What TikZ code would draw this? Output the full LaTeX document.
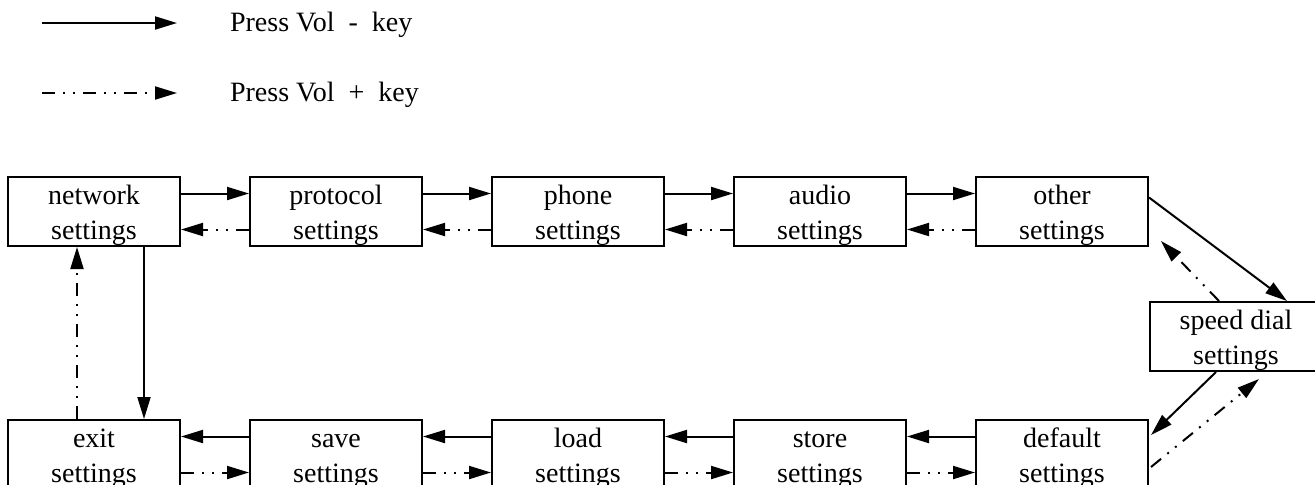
\documentclass[tikz,border=0pt]{standalone}
\usepackage{fontspec}
\setmainfont{Liberation Serif}
\usetikzlibrary{arrows.meta,positioning,calc}
\newcommand{\topline}{\rule{0pt}{13.5pt}}
\tikzset{
    setting/.style={
        rectangle,
        draw=black,
        line width=1pt,
        minimum width=86pt,
        minimum height=34.5pt,
        inner sep=0pt,
        align=center,
    },
    volminus/.style={
        ->,
        line width=1pt,
    },
    volplus/.style={
        ->,
        line width=1pt,
        dash pattern=on 6.5pt off 4pt on 1pt off 4pt on 1pt off 4pt,
    },
}

\begin{document}
\begin{tikzpicture}[node distance=86pt and 34pt,>={Triangle[length=11pt,width=6.5pt]},font=\fontsize{14}{17.5}\selectfont]
    \useasboundingbox (0,0) rectangle (657.5pt,-242pt);
    % legend
    \coordinate (minus-from) at (21pt,-11.5pt);
    \coordinate (minus-to) at (88.5pt,-11.5pt);
    \coordinate (plus-from) at (21pt,-46.5pt);
    \coordinate (plus-to) at (88.5pt,-46.5pt);
    \node [anchor=west] (minus-text) at (111.5pt,-12.5pt) {Press Vol~~-~~key};
    \node [anchor=west] (plus-text) at (111.5pt,-47.5pt) {Press Vol~~+~~key};
    \draw [volminus] (minus-from) -- (minus-to);
    \draw [volplus] (plus-from) -- (plus-to);
    % top row
    \node [setting] (network) at (47pt,-105.75pt) {\topline network\\settings};
    \node [setting] (protocol) [right=of network] {\topline protocol\\settings};
    \node [setting] (phone) [right=of protocol] {\topline phone\\settings};
    \node [setting] (audio) [right=of phone] {\topline audio\\settings};
    \node [setting] (other) [right=of audio] {\topline other\\settings};
    % bottom row
    \node [setting] (exit) [below=of network] {\topline exit\\settings};
    \node [setting] (save) [right=of exit] {\topline save\\settings};
    \node [setting] (load) [right=of save] {\topline load\\settings};
    \node [setting] (store) [right=of load] {\topline store\\settings};
    \node [setting] (default) [right=of store] {\topline default\\settings};
    \node [setting,anchor=west] (speeddial) at ($(other.east)!0.5!(default.east)+(0,-1.75pt)$) {\topline speed dial\\settings};
    % Vol - key
    \draw [volminus] ([yshift=9pt]network.east) -- ([yshift=9pt]protocol.west);
    \draw [volminus] ([yshift=9pt]protocol.east) -- ([yshift=9pt]phone.west);
    \draw [volminus] ([yshift=9pt]phone.east) -- ([yshift=9pt]audio.west);
    \draw [volminus] ([yshift=9pt]audio.east) -- ([yshift=9pt]other.west);
    \draw [volminus] ([yshift=7pt]other.east) -- ([xshift=25.5pt]speeddial.north);
    \draw [volminus] ([xshift=-10pt]speeddial.south) -- ([xshift=1pt,yshift=9.75pt]default.east);
    \draw [volminus] ([yshift=9pt]default.west) -- ([yshift=9pt]store.east);
    \draw [volminus] ([yshift=9pt]store.west) -- ([yshift=9pt]load.east);
    \draw [volminus] ([yshift=9pt]load.west) -- ([yshift=9pt]save.east);
    \draw [volminus] ([yshift=9pt]save.west) -- ([yshift=9pt]exit.east);
    \draw [volminus] ([xshift=25pt]network.south) -- ([xshift=25pt]exit.north);
    % Vol + key
    \draw [volplus] ([yshift=-9pt]protocol.west) -- ([yshift=-9pt]network.east);
    \draw [volplus] ([yshift=-9pt]phone.west) -- ([yshift=-9pt]protocol.east);
    \draw [volplus] ([yshift=-9pt]audio.west) -- ([yshift=-9pt]phone.east);
    \draw [volplus] ([yshift=-9pt]other.west) -- ([yshift=-9pt]audio.east);
    \draw [volplus] ([xshift=-8.5pt]speeddial.north) -- ([xshift=6pt,yshift=3pt]other.south east);
    \draw [volplus] ([xshift=1pt,yshift=-6.25pt]default.east) -- ([xshift=11.5pt,yshift=-3.5pt]speeddial.south);
    \draw [volplus] ([yshift=-9pt]exit.east) -- ([yshift=-9pt]save.west);
    \draw [volplus] ([yshift=-9pt]save.east) -- ([yshift=-9pt]load.west);
    \draw [volplus] ([yshift=-9pt]load.east) -- ([yshift=-9pt]store.west);
    \draw [volplus] ([yshift=-9pt]store.east) -- ([yshift=-9pt]default.west);
    \draw [volplus] ([xshift=-8.5pt]exit.north) -- ([xshift=-8.5pt]network.south);
\end{tikzpicture}
\end{document}
